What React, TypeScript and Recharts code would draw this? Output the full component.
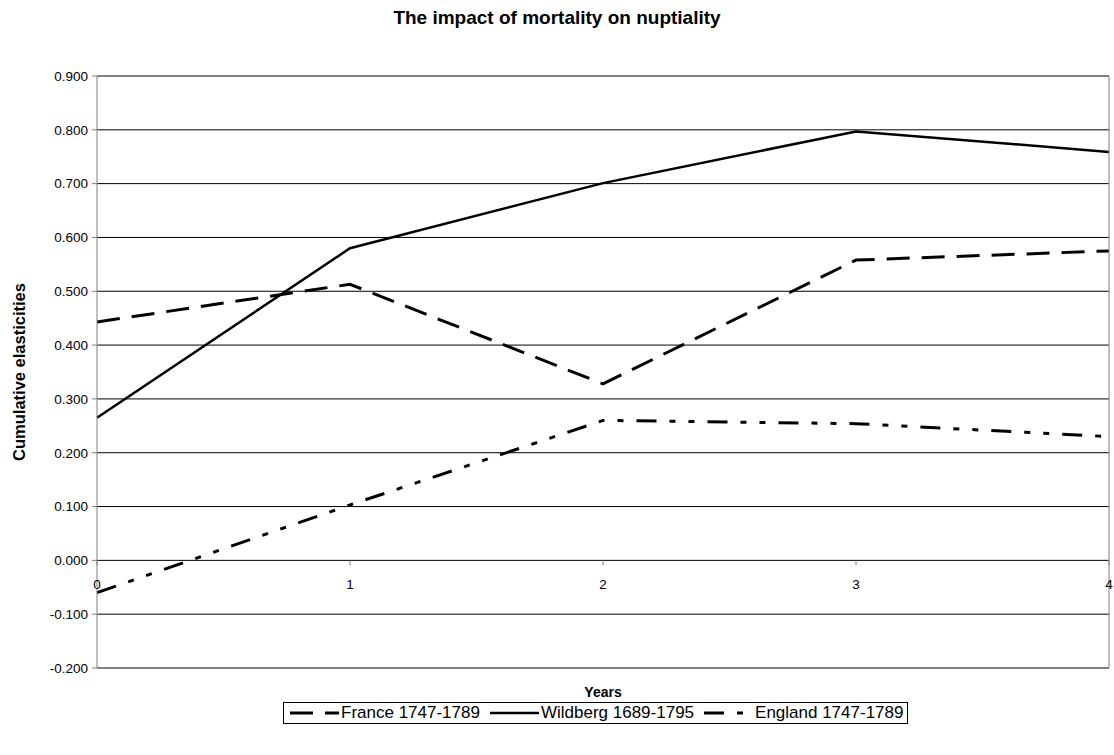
import { CartesianGrid, Line, LineChart, XAxis, YAxis } from "recharts";

const years = [0, 1, 2, 3, 4];
const france = [0.443, 0.513, 0.328, 0.558, 0.575];
const wildberg = [0.265, 0.58, 0.701, 0.797, 0.759];
const england = [-0.06, 0.103, 0.26, 0.254, 0.23];
const yTicks = [-0.2, -0.1, 0, 0.1, 0.2, 0.3, 0.4, 0.5, 0.6, 0.7, 0.8, 0.9];

const W = 1114;
const H = 755;
const PLOT_TOP = 76;
const PLOT_BOTTOM = 668;
const Y_MIN = -0.2;
const Y_MAX = 0.9;
const FONT = "Arial, 'Liberation Sans', sans-serif";

const series = [
  { key: "france", name: "France 1747-1789", dash: "23 12", width: 3 },
  { key: "wildberg", name: "Wildberg 1689-1795", dash: undefined, width: 2.5 },
  { key: "england", name: "England 1747-1789", dash: "20 13 6 13 6 13", width: 3 },
];

const data = years.map((year, i) => ({
  year,
  france: france[i],
  wildberg: wildberg[i],
  england: england[i],
}));

// y of the zero line, where the category axis crosses
const zeroY = PLOT_TOP + ((Y_MAX - 0) / (Y_MAX - Y_MIN)) * (PLOT_BOTTOM - PLOT_TOP);
const midY = (PLOT_TOP + PLOT_BOTTOM) / 2;

function YearTick(props: any) {
  const { x, payload } = props;
  return (
    <g>
      <line x1={x} x2={x} y1={zeroY} y2={zeroY + 5} stroke="#808080" />
      <text x={x} y={zeroY + 29} textAnchor="middle" fontSize={13.5} fontFamily={FONT} fill="#000">
        {payload.value}
      </text>
    </g>
  );
}

export default function App() {
  return (
    <div style={{ position: "absolute", left: 0, top: 0, width: W, height: H, background: "#fff" }}>
      <div
        style={{
          position: "absolute",
          top: 7,
          left: 0,
          width: W,
          textAlign: "center",
          font: `bold 19px ${FONT}`,
          lineHeight: "22px",
        }}
      >
        The impact of mortality on nuptiality
      </div>
      <LineChart width={W} height={H} data={data} margin={{ top: PLOT_TOP, right: 4, left: 0, bottom: H - PLOT_BOTTOM - 20 }}>
        <CartesianGrid vertical={false} stroke="#000" strokeWidth={1} />
        <XAxis
          dataKey="year"
          type="number"
          domain={[0, 4]}
          ticks={years}
          height={20}
          axisLine={{ stroke: "#808080" }}
          tickLine={false}
          tick={<YearTick />}
          interval={0}
          label={{
            content: () => (
              <text x={603} y={697} textAnchor="middle" fontSize={14} fontWeight="bold" fontFamily={FONT}>
                Years
              </text>
            ),
          }}
        />
        <YAxis
          width={97}
          domain={[Y_MIN, Y_MAX]}
          ticks={yTicks}
          interval={0}
          allowDataOverflow
          tickFormatter={(v: number) => v.toFixed(3)}
          tickSize={5}
          tickMargin={4}
          tickLine={{ stroke: "#808080" }}
          axisLine={{ stroke: "#808080" }}
          tick={{ fill: "#000", fontSize: 13.5, fontFamily: FONT }}
          label={{
            content: () => (
              <text
                x={25}
                y={midY}
                textAnchor="middle"
                fontSize={16.5}
                fontWeight="bold"
                fontFamily={FONT}
                transform={`rotate(-90 25 ${midY})`}
              >
                Cumulative elasticities
              </text>
            ),
          }}
        />
        <YAxis
          yAxisId="r"
          orientation="right"
          width={1}
          domain={[Y_MIN, Y_MAX]}
          tick={false}
          tickLine={false}
          axisLine={{ stroke: "#808080" }}
        />
        {series.map((s) => (
          <Line
            key={s.key}
            type="linear"
            dataKey={s.key}
            name={s.name}
            stroke="#000"
            strokeWidth={s.width}
            strokeDasharray={s.dash}
            dot={false}
            activeDot={false}
            isAnimationActive={false}
          />
        ))}
      </LineChart>
      <div
        style={{
          position: "absolute",
          left: 283,
          top: 702,
          height: 20,
          border: "1px solid #000",
          display: "flex",
          alignItems: "center",
          padding: "0 4px 0 6px",
          font: `17px ${FONT}`,
          whiteSpace: "nowrap",
        }}
      >
        {series.map((s, i) => (
          <span
            key={s.key}
            style={{ display: "inline-flex", alignItems: "center", marginRight: i < series.length - 1 ? 10 : 0 }}
          >
            <svg width={49} height={8} style={{ marginRight: 2 }}>
              <line x1={0} x2={49} y1={4} y2={4} stroke="#000" strokeWidth={s.width} strokeDasharray={s.dash} />
            </svg>
            {s.name}
          </span>
        ))}
      </div>
    </div>
  );
}
